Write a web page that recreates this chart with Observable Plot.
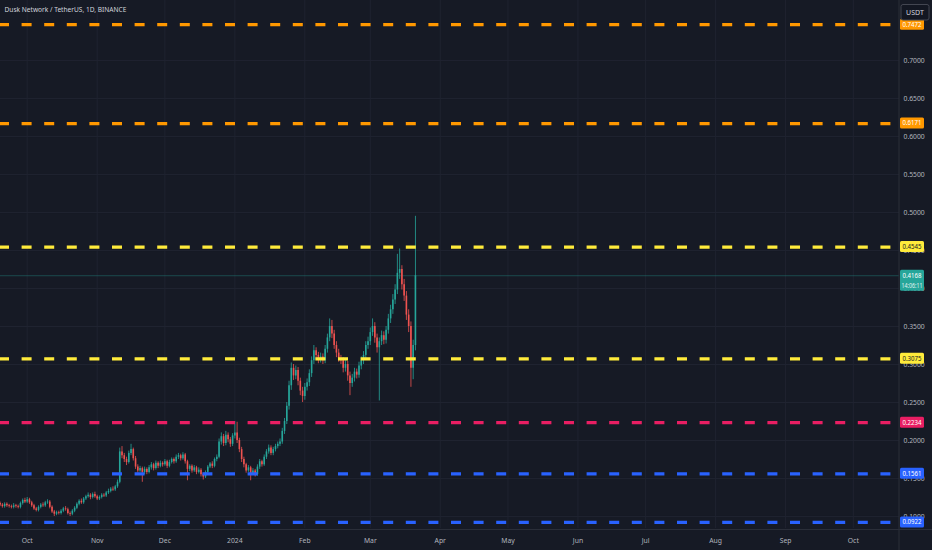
<!DOCTYPE html>
<html>
<head>
<meta charset="utf-8">
<script src="https://cdn.jsdelivr.net/npm/d3@7"></script>
<script src="https://cdn.jsdelivr.net/npm/@observablehq/plot@0.6"></script>
<style>
  html, body { margin: 0; padding: 0; background: #161a25; }
  #chart { width: 932px; height: 550px; }
</style>
</head>
<body>
<div id="chart"></div>
<script>
// DUSK/USDT daily candles, 2023-09-19 .. 2024-03-21 (one value per day)
var opens = [
  0.117, 0.115, 0.113, 0.116, 0.114, 0.113, 0.112, 0.114, 0.113, 0.112,
  0.117, 0.121, 0.119, 0.122, 0.118, 0.114, 0.110, 0.108, 0.112, 0.115,
  0.114, 0.118, 0.119, 0.112, 0.106, 0.103, 0.105, 0.104, 0.107, 0.110,
  0.109, 0.104, 0.103, 0.107, 0.111, 0.116, 0.120, 0.118, 0.123, 0.126,
  0.128, 0.125, 0.129, 0.126, 0.123, 0.125, 0.128, 0.127, 0.131, 0.133,
  0.136, 0.135, 0.139, 0.145, 0.185, 0.180, 0.175, 0.171, 0.183, 0.188,
  0.176, 0.165, 0.160, 0.163, 0.158, 0.162, 0.158, 0.164, 0.168, 0.163,
  0.170, 0.166, 0.170, 0.168, 0.172, 0.166, 0.171, 0.175, 0.172, 0.178,
  0.180, 0.176, 0.181, 0.172, 0.162, 0.166, 0.160, 0.164, 0.158, 0.161,
  0.155, 0.152, 0.158, 0.165, 0.169, 0.166, 0.175, 0.178, 0.198, 0.205,
  0.196, 0.207, 0.201, 0.195, 0.206, 0.210, 0.200, 0.188, 0.175, 0.168,
  0.160, 0.164, 0.157, 0.160, 0.155, 0.165, 0.172, 0.168, 0.178, 0.185,
  0.190, 0.183, 0.188, 0.192, 0.195, 0.198, 0.212, 0.225, 0.245, 0.272,
  0.295, 0.285, 0.292, 0.278, 0.265, 0.258, 0.270, 0.276, 0.288, 0.305,
  0.318, 0.312, 0.306, 0.310, 0.305, 0.320, 0.335, 0.350, 0.340, 0.325,
  0.315, 0.308, 0.305, 0.295, 0.300, 0.285, 0.275, 0.282, 0.290, 0.286,
  0.298, 0.305, 0.312, 0.325, 0.330, 0.342, 0.350, 0.335, 0.322, 0.330,
  0.338, 0.332, 0.345, 0.360, 0.372, 0.385, 0.398, 0.420, 0.425, 0.405,
  0.390, 0.365, 0.350, 0.295, 0.325
];
var highs = [
  0.119, 0.117, 0.118, 0.118, 0.116, 0.115, 0.117, 0.116, 0.115, 0.119,
  0.123, 0.124, 0.125, 0.124, 0.120, 0.116, 0.112, 0.114, 0.117, 0.118,
  0.120, 0.122, 0.121, 0.114, 0.108, 0.107, 0.107, 0.109, 0.112, 0.113,
  0.111, 0.106, 0.109, 0.113, 0.118, 0.122, 0.123, 0.125, 0.128, 0.131,
  0.130, 0.131, 0.132, 0.128, 0.127, 0.130, 0.130, 0.133, 0.136, 0.138,
  0.139, 0.141, 0.148, 0.190, 0.192, 0.183, 0.178, 0.186, 0.195, 0.190,
  0.179, 0.168, 0.166, 0.165, 0.165, 0.164, 0.167, 0.171, 0.170, 0.173,
  0.172, 0.173, 0.172, 0.175, 0.174, 0.174, 0.177, 0.177, 0.181, 0.183,
  0.182, 0.184, 0.183, 0.174, 0.168, 0.168, 0.167, 0.166, 0.164, 0.163,
  0.157, 0.160, 0.167, 0.171, 0.172, 0.177, 0.181, 0.202, 0.210, 0.208,
  0.212, 0.210, 0.204, 0.209, 0.225, 0.224, 0.203, 0.191, 0.178, 0.170,
  0.167, 0.166, 0.163, 0.162, 0.168, 0.175, 0.174, 0.181, 0.188, 0.194,
  0.193, 0.191, 0.195, 0.198, 0.202, 0.216, 0.229, 0.250, 0.278, 0.302,
  0.300, 0.298, 0.296, 0.282, 0.270, 0.275, 0.281, 0.293, 0.310, 0.325,
  0.322, 0.316, 0.315, 0.314, 0.325, 0.340, 0.360, 0.358, 0.345, 0.330,
  0.320, 0.312, 0.309, 0.305, 0.304, 0.290, 0.287, 0.295, 0.294, 0.303,
  0.310, 0.317, 0.330, 0.336, 0.348, 0.360, 0.355, 0.340, 0.335, 0.344,
  0.343, 0.350, 0.366, 0.378, 0.392, 0.405, 0.445, 0.452, 0.430, 0.412,
  0.396, 0.372, 0.356, 0.332, 0.495
];
var lows = [
  0.113, 0.111, 0.111, 0.112, 0.111, 0.110, 0.110, 0.111, 0.110, 0.110,
  0.115, 0.117, 0.117, 0.116, 0.112, 0.108, 0.106, 0.106, 0.110, 0.112,
  0.112, 0.116, 0.110, 0.104, 0.100, 0.101, 0.102, 0.102, 0.105, 0.107,
  0.102, 0.100, 0.101, 0.105, 0.109, 0.114, 0.116, 0.116, 0.121, 0.124,
  0.122, 0.123, 0.124, 0.121, 0.121, 0.123, 0.125, 0.125, 0.129, 0.131,
  0.133, 0.133, 0.137, 0.143, 0.176, 0.171, 0.167, 0.169, 0.180, 0.173,
  0.162, 0.157, 0.158, 0.145, 0.155, 0.155, 0.156, 0.161, 0.160, 0.161,
  0.163, 0.164, 0.165, 0.166, 0.163, 0.164, 0.169, 0.169, 0.170, 0.175,
  0.173, 0.174, 0.169, 0.147, 0.159, 0.157, 0.158, 0.155, 0.156, 0.152,
  0.148, 0.150, 0.156, 0.163, 0.163, 0.164, 0.172, 0.176, 0.194, 0.192,
  0.193, 0.197, 0.191, 0.192, 0.202, 0.196, 0.184, 0.171, 0.164, 0.157,
  0.158, 0.147, 0.154, 0.152, 0.153, 0.162, 0.165, 0.166, 0.175, 0.182,
  0.180, 0.180, 0.185, 0.189, 0.192, 0.195, 0.208, 0.221, 0.240, 0.266,
  0.279, 0.280, 0.272, 0.259, 0.250, 0.253, 0.265, 0.271, 0.283, 0.300,
  0.306, 0.301, 0.302, 0.300, 0.301, 0.315, 0.330, 0.334, 0.320, 0.309,
  0.303, 0.300, 0.289, 0.290, 0.278, 0.259, 0.270, 0.277, 0.281, 0.282,
  0.293, 0.300, 0.307, 0.320, 0.325, 0.337, 0.328, 0.315, 0.252, 0.325,
  0.326, 0.327, 0.340, 0.354, 0.366, 0.379, 0.392, 0.412, 0.398, 0.383,
  0.358, 0.342, 0.270, 0.280, 0.318
];
var closes = [
  0.115, 0.113, 0.116, 0.114, 0.113, 0.112, 0.114, 0.113, 0.112, 0.117,
  0.121, 0.119, 0.122, 0.118, 0.114, 0.110, 0.108, 0.112, 0.115, 0.114,
  0.118, 0.119, 0.112, 0.106, 0.103, 0.105, 0.104, 0.107, 0.110, 0.109,
  0.104, 0.103, 0.107, 0.111, 0.116, 0.120, 0.118, 0.123, 0.126, 0.128,
  0.125, 0.129, 0.126, 0.123, 0.125, 0.128, 0.127, 0.131, 0.133, 0.136,
  0.135, 0.139, 0.145, 0.185, 0.180, 0.175, 0.171, 0.183, 0.188, 0.176,
  0.165, 0.160, 0.163, 0.158, 0.162, 0.158, 0.164, 0.168, 0.163, 0.170,
  0.166, 0.170, 0.168, 0.172, 0.166, 0.171, 0.175, 0.172, 0.178, 0.180,
  0.176, 0.181, 0.172, 0.162, 0.166, 0.160, 0.164, 0.158, 0.161, 0.155,
  0.152, 0.158, 0.165, 0.169, 0.166, 0.175, 0.178, 0.198, 0.205, 0.196,
  0.207, 0.201, 0.195, 0.206, 0.210, 0.200, 0.188, 0.175, 0.168, 0.160,
  0.164, 0.157, 0.160, 0.155, 0.165, 0.172, 0.168, 0.178, 0.185, 0.190,
  0.183, 0.188, 0.192, 0.195, 0.198, 0.212, 0.225, 0.245, 0.272, 0.295,
  0.285, 0.292, 0.278, 0.265, 0.258, 0.270, 0.276, 0.288, 0.305, 0.318,
  0.312, 0.306, 0.310, 0.305, 0.320, 0.335, 0.350, 0.340, 0.325, 0.315,
  0.308, 0.305, 0.295, 0.300, 0.285, 0.275, 0.282, 0.290, 0.286, 0.298,
  0.305, 0.312, 0.325, 0.330, 0.342, 0.350, 0.335, 0.322, 0.330, 0.338,
  0.332, 0.345, 0.360, 0.372, 0.385, 0.398, 0.420, 0.425, 0.405, 0.390,
  0.365, 0.350, 0.295, 0.325, 0.4168
];

// horizontal levels drawn on the chart
var levelPrices = [0.7472, 0.6171, 0.4545, 0.3075, 0.2234, 0.1561, 0.0922];
var levelColors = ['#ff9800', '#ff9800', '#ffeb3b', '#ffeb3b', '#e91e63', '#2962ff', '#2962ff'];
var levelInk = ['#ffffff', '#ffffff', '#131722', '#131722', '#ffffff', '#ffffff', '#ffffff'];

var lastPrice = 0.4168;
var countdown = '14:06:11';
var priceTicks = [0.10, 0.15, 0.20, 0.25, 0.30, 0.35, 0.40, 0.45, 0.50, 0.55, 0.60, 0.65, 0.70];
var monthTicks = ['2023-10-01', '2023-11-01', '2023-12-01', '2024-01-01', '2024-02-01', '2024-03-01',
  '2024-04-01', '2024-05-01', '2024-06-01', '2024-07-01', '2024-08-01', '2024-09-01', '2024-10-01'];
var monthLabels = ['Oct', 'Nov', 'Dec', '2024', 'Feb', 'Mar', 'Apr', 'May', 'Jun', 'Jul', 'Aug', 'Sep', 'Oct'];
var title = 'Dusk Network / TetherUS, 1D, BINANCE';
var currency = 'USDT';

var UP = '#26a69a', DOWN = '#ef5350', GRID = '#1f2330', EDGE = '#2a2e39';

var candles = opens.map(function (o, i) {
  return { date: new Date(Date.UTC(2023, 8, 19 + i)), open: o, high: highs[i], low: lows[i], close: closes[i] };
});
var ups = candles.filter(function (d) { return d.close >= d.open; });
var downs = candles.filter(function (d) { return d.close < d.open; });
var levels = levelPrices.map(function (p, i) { return { price: p, color: levelColors[i], ink: levelInk[i] }; });
var monthDates = monthTicks.map(function (s) { return new Date(s); });
var monthName = new Map(monthDates.map(function (d, i) { return [+d, monthLabels[i]]; }));

// price tags on the right axis, the countdown tag and the currency button
function priceTags(index, scales, values, dims) {
  var g = d3.create('svg:g').attr('font-size', 7);
  var x0 = dims.width - dims.marginRight + 1;
  var right = dims.width - dims.marginRight;
  var bottom = dims.height - dims.marginBottom;
  g.append('line').attr('x1', right).attr('x2', right).attr('y1', 0).attr('y2', dims.height).attr('stroke', EDGE);
  g.append('line').attr('x1', 0).attr('x2', dims.width).attr('y1', bottom + 1.5).attr('y2', bottom + 1.5).attr('stroke', EDGE);
  function tagText(y, txt, ink, len) {
    g.append('text').attr('x', x0 + 12).attr('y', y).attr('dy', '0.35em')
      .attr('text-anchor', 'middle').attr('fill', ink)
      .attr('textLength', len).attr('lengthAdjust', 'spacingAndGlyphs').text(txt);
  }
  levels.forEach(function (t) {
    var y = scales.y(t.price);
    g.append('rect').attr('x', x0).attr('y', y - 5.5).attr('width', 24).attr('height', 11)
      .attr('rx', 1.5).attr('fill', t.color);
    tagText(y, t.price.toFixed(4), t.ink, 19);
  });
  var yl = scales.y(lastPrice);
  g.append('rect').attr('x', x0).attr('y', yl - 5.5).attr('width', 24).attr('height', 21)
    .attr('rx', 1.5).attr('fill', UP);
  tagText(yl, lastPrice.toFixed(4), '#ffffff', 19);
  tagText(yl + 10, countdown, '#e0f2f1', 21);
  g.append('rect').attr('x', x0 + 1).attr('y', 4.5).attr('width', 28).attr('height', 15.5)
    .attr('rx', 2).attr('fill', '#131722').attr('stroke', '#434651');
  g.append('text').attr('x', x0 + 15).attr('y', 12.3).attr('dy', '0.35em')
    .attr('text-anchor', 'middle').attr('fill', '#d1d4dc').text(currency);
  return g.node();
}

var chart = Plot.plot({
  width: 932,
  height: 550,
  marginLeft: 0,
  marginRight: 33,
  marginTop: 0,
  marginBottom: 22,
  style: { background: '#161a25', color: '#b2b5be', fontFamily: 'Noto Sans, sans-serif', overflow: 'visible' },
  x: { type: 'utc', domain: [new Date(Date.UTC(2023, 8, 19, 4)), new Date(Date.UTC(2024, 9, 21, 11))] },
  y: { domain: [0.0842, 0.779] },
  marks: [
    Plot.gridX(monthDates, { stroke: GRID, strokeOpacity: 1 }),
    Plot.gridY(priceTicks, { stroke: GRID, strokeOpacity: 1 }),
    Plot.axisX(monthDates, {
      tickSize: 0, tickPadding: 10, fontSize: 6.8, fill: '#b2b5be',
      tickFormat: function (d) { return monthName.get(+d); }
    }),
    Plot.axisY(priceTicks, {
      anchor: 'right', tickSize: 0, tickPadding: 4, fontSize: 6.8, fill: '#b2b5be',
      tickFormat: function (d) { return d.toFixed(4); }
    }),
    Plot.ruleY([lastPrice], { stroke: UP, strokeOpacity: 0.35 }),
    Plot.ruleX(ups, { x: 'date', y1: 'low', y2: 'high', stroke: UP, strokeWidth: 0.8 }),
    Plot.ruleX(downs, { x: 'date', y1: 'low', y2: 'high', stroke: DOWN, strokeWidth: 0.8 }),
    Plot.ruleX(ups, { x: 'date', y1: 'open', y2: 'close', stroke: UP, strokeWidth: 1.6 }),
    Plot.ruleX(downs, { x: 'date', y1: 'open', y2: 'close', stroke: DOWN, strokeWidth: 1.6 }),
    Plot.ruleY(levels, { y: 'price', stroke: 'color', strokeWidth: 3.2, strokeDasharray: '10,12.6', strokeDashoffset: 1 }),
    priceTags,
    Plot.text([title], {
      frameAnchor: 'top-left', dx: 4, dy: 7, textAnchor: 'start', lineAnchor: 'top',
      fill: '#d1d4dc', fontSize: 6.6
    })
  ]
});
document.getElementById('chart').appendChild(chart);
</script>
</body>
</html>
